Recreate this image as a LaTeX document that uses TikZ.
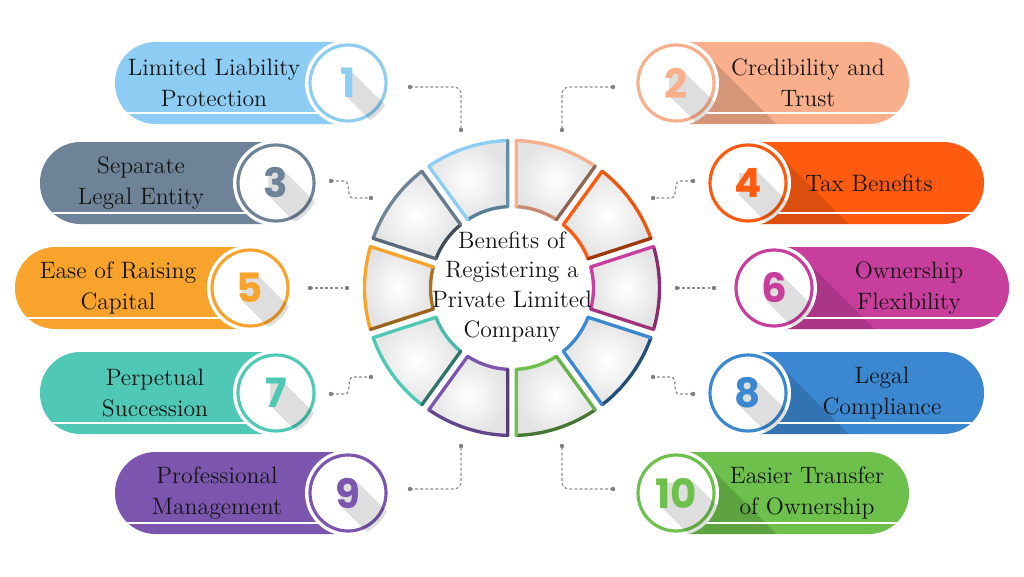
\documentclass[tikz,border=0pt]{standalone}
\usepackage{fontspec}
\newfontfamily\numfont{Poppins}
\usetikzlibrary{calc}
\pgfdeclarelayer{front}
\pgfsetlayers{main,front}
\definecolor{c1}{HTML}{8ECDF3}
\definecolor{c2}{HTML}{F9AF8C}
\definecolor{c3}{HTML}{6F8398}
\definecolor{c4}{HTML}{FF5B10}
\definecolor{c5}{HTML}{F8A32B}
\definecolor{c6}{HTML}{C83E9D}
\definecolor{c7}{HTML}{4FC8B6}
\definecolor{c8}{HTML}{3B88D1}
\definecolor{c9}{HTML}{7C56AE}
\definecolor{c10}{HTML}{6DC04B}
\tikzset{
  lbl/.style={align=center, inner sep=0pt, text=black!92, font=\fontsize{13.5}{17.6}\selectfont},
  ctext/.style={align=center, inner sep=0pt, text=black!92, font=\fontsize{13.5}{17}\selectfont},
  digit/.style={inner sep=0pt, font=\numfont\bfseries\fontsize{23}{23}\selectfont},
  conn/.style={draw=black!45, line width=0.7pt, dash pattern=on 1.6pt off 1.3pt},
  enddot/.style={fill=black!50},
}
% #1 name #2 colour #3 circle x #4 y #5 digit
\newcommand\badge[5]{%
  \fill[white] (#3,#4) circle[radius=43];
  \draw[#2, line width=1.8pt] (#3,#4) circle[radius=38];
  \begin{pgfonlayer}{front}
    \node[digit, text=#2] (#1n) at (#3,#4) {#5};
  \end{pgfonlayer}
  \begin{scope}
    \clip (#3,#4) circle[radius=43];
    \fill[black, opacity=0.13] ($(#1n.north west)+(5,-5)$) -- ($(#1n.north east)+(-3,-5)$) -- ($(#1n.north east)+(57,-65)$)
      -- ($(#1n.south east)+(57,-57)$) -- ($(#1n.south west)+(65,-57)$) -- ($(#1n.south west)+(5,3)$) -- cycle;
  \end{scope}}
% #1 name #2 colour #3 left edge #4 circle x #5 y #6 digit #7 text x #8 text
\newcommand\leftitem[8]{%
  \fill[#2, rounded corners=0.81cm] (#3,#5-41) rectangle (#4+41,#5+41);
  \begin{scope}
    \clip[rounded corners=0.81cm] (#3,#5-41) rectangle (#4+41,#5+41);
    \draw[white, line width=1pt] (#3,#5-30) -- (#4,#5-30);
  \end{scope}
  \badge{#1}{#2}{#4}{#5}{#6}
  \node[lbl] (#1t) at (#7,#5) {#8};}
% #3 right edge
\newcommand\rightitem[8]{%
  \fill[#2, rounded corners=0.81cm] (#4-41,#5-41) rectangle (#3,#5+41);
  \begin{scope}
    \clip[rounded corners=0.81cm] (#4-41,#5-41) rectangle (#3,#5+41);
    \fill[black, opacity=0.14] ($(#4,#5)+(45:42)$) -- ++(160,-160) -- ($(#4,#5)+(225:42)+(160,-160)$) -- ($(#4,#5)+(225:42)$) -- cycle;
    \draw[white, line width=1pt] (#4,#5-30) -- (#3,#5-30);
  \end{scope}
  \badge{#1}{#2}{#4}{#5}{#6}
  \node[lbl] (#1t) at (#7,#5) {#8};}
\begin{document}
\begin{tikzpicture}[x=0.02cm, y=0.02cm]
\useasboundingbox (0,0) rectangle (1024,576);
\fill[white] (0,0) rectangle (1024,576);

% connectors
\coordinate (k1a) at (410,489); \coordinate (k1b) at (461,446);
\coordinate (k2a) at (613,489); \coordinate (k2b) at (562,446);
\coordinate (k3a) at (331,395); \coordinate (k3b) at (371,378);
\coordinate (k4a) at (693,395); \coordinate (k4b) at (653,378);
\coordinate (k5a) at (310,288); \coordinate (k5b) at (347,288);
\coordinate (k6a) at (677,288); \coordinate (k6b) at (714,288);
\coordinate (k7a) at (331,182); \coordinate (k7b) at (371,199);
\coordinate (k8a) at (693,182); \coordinate (k8b) at (653,199);
\coordinate (k9a) at (410,87);  \coordinate (k9b) at (461,130);
\coordinate (k10a) at (613,87); \coordinate (k10b) at (562,130);
\draw[conn, rounded corners=4] (k1a) -| (k1b);
\draw[conn, rounded corners=4] (k2a) -| (k2b);
\draw[conn] (k3a) -- ++(13,0) .. controls +(7,0) and +(-7,0) .. ($(k3b)+(-18,0)$) -- (k3b);
\draw[conn] (k4a) -- ++(-13,0) .. controls +(-7,0) and +(7,0) .. ($(k4b)+(18,0)$) -- (k4b);
\draw[conn] (k5a) -- (k5b);
\draw[conn] (k6a) -- (k6b);
\draw[conn] (k7a) -- ++(14,0) .. controls +(7,0) and +(-7,0) .. ($(k7b)+(-18,0)$) -- (k7b);
\draw[conn] (k8a) -- ++(-14,0) .. controls +(-7,0) and +(7,0) .. ($(k8b)+(18,0)$) -- (k8b);
\draw[conn, rounded corners=4] (k9a) -| (k9b);
\draw[conn, rounded corners=4] (k10a) -| (k10b);
\foreach \p in {k1a,k1b,k2a,k2b,k3a,k3b,k4a,k4b,k5a,k5b,k6a,k6b,k7a,k7b,k8a,k8b,k9a,k9b,k10a,k10b}
  \fill[enddot] (\p) circle[radius=2.2];

% central ring
\begin{scope}[shift={(512,288)}]
\pgfmathsetmacro\ro{147.5}
\pgfmathsetmacro\ri{81.5}
\pgfmathsetmacro\dO{18-asin(4.3/147.5)}
\pgfmathsetmacro\dI{18-asin(4.3/81.5)}
\foreach \t/\c in {108/c1, 72/c2, 144/c3, 36/c4, 180/c5, 0/c6, 216/c7, -36/c8, 252/c9, -72/c10}{
  \pgfmathsetmacro\oa{\t-\dO}\pgfmathsetmacro\ob{\t+\dO}
  \pgfmathsetmacro\ia{\t-\dI}\pgfmathsetmacro\ib{\t+\dI}
  \shade[inner color=white, outer color=black!11] (\oa:\ro) arc[start angle=\oa, end angle=\ob, radius=\ro] -- (\ib:\ri) arc[start angle=\ib, end angle=\ia, radius=\ri] -- cycle;
  \pgfmathtruncatemacro\mO{100-42*max(0,cos(\t+45))}
  \pgfmathtruncatemacro\mI{100-42*max(0,cos(\t+225))}
  \pgfmathtruncatemacro\mA{100-42*max(0,cos(\t+153))}
  \pgfmathtruncatemacro\mB{100-42*max(0,cos(\t-63))}
  \draw[line width=1.9pt, line cap=round, draw=\c!\mO!black] (\oa:\ro) arc[start angle=\oa, end angle=\ob, radius=\ro];
  \draw[line width=1.9pt, line cap=round, draw=\c!\mI!black] (\ib:\ri) arc[start angle=\ib, end angle=\ia, radius=\ri];
  \draw[line width=1.9pt, line cap=round, draw=\c!\mA!black] (\ob:\ro) -- (\ib:\ri);
  \draw[line width=1.9pt, line cap=round, draw=\c!\mB!black] (\oa:\ro) -- (\ia:\ri);
}
\end{scope}
\node[ctext] (title) at (512,289) {Benefits of\\Registering a\\Private Limited\\Company};

% items
\leftitem{i1}{c1}{115}{348}{493}{1}{214}{Limited Liability\\Protection}
\leftitem{i3}{c3}{40}{276}{393}{3}{141}{Separate\\Legal Entity}
\leftitem{i5}{c5}{15}{250}{288}{5}{118}{Ease of Raising\\Capital}
\leftitem{i7}{c7}{40}{276}{183}{7}{155}{Perpetual\\Succession}
\leftitem{i9}{c9}{115}{348}{83}{9}{217}{Professional\\Management}
\rightitem{i2}{c2}{909}{676}{493}{2}{808}{Credibility and\\Trust}
\rightitem{i4}{c4}{984}{748}{393}{4}{869}{Tax Benefits}
\rightitem{i6}{c6}{1009}{774}{288}{6}{909}{Ownership\\Flexibility}
\rightitem{i8}{c8}{984}{748}{183}{8}{882}{Legal\\Compliance}
\rightitem{i10}{c10}{909}{676}{83}{10}{807}{Easier Transfer\\of Ownership}
\end{tikzpicture}
\end{document}
